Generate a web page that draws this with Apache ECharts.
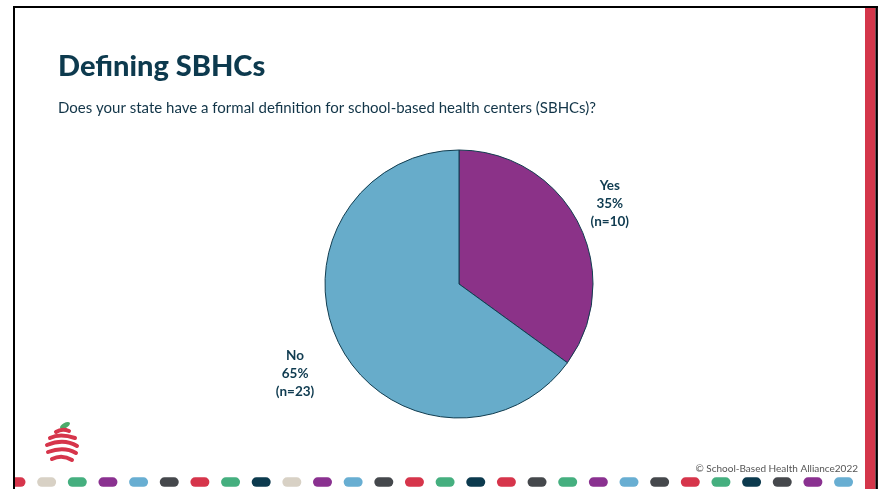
<!DOCTYPE html>
<html>
<head>
<meta charset="utf-8">
<script src="https://cdn.jsdelivr.net/npm/echarts@6/dist/echarts.min.js"></script>
<style>
  html, body { margin: 0; padding: 0; background: #ffffff; }
  #chart { width: 880px; height: 489px; }
</style>
</head>
<body>
<div id="chart"></div>
<script>
// ---- data ----
const titleText = 'Defining SBHCs';
const subtitleText = 'Does your state have a formal definition for school-based health centers (SBHCs)?';
const categories = ['Yes', 'No'];
const percents = [35, 65];
const counts = [10, 23];
const copyrightText = '\u00A9 School-Based Health Alliance2022';

// ---- styles ----
const sliceColors = ['#8B3288', '#67ACCA'];
const labelLayoutCfg = [
  { length: 42, length2: -41 },
  { length: 64, length2: -47.5 }
];
const textColor = '#0F3B50';
const pillPalette = {
  red: '#D6354B', beige: '#D8D1C5', green: '#45AF7F', purple: '#8A3190',
  blue: '#68AED2', dark: '#45484C', navy: '#0C3A4E'
};
const pillSeq = ['red','beige','green','purple','blue','dark','red','green','navy','beige',
  'purple','blue','dark','red','green','navy','red','dark','green','purple','blue','dark',
  'red','green','navy','dark','purple','blue'];

const chart = echarts.init(document.getElementById('chart'), null, { renderer: 'canvas' });

const graphics = [];
// decorative pills
pillSeq.forEach(function (c, i) {
  const cx = 16 + 30.65 * i;
  graphics.push({
    type: 'rect', z: 1, silent: true,
    shape: { x: cx - 9.5, y: 477.3, width: 19, height: 9.5, r: 4.75 },
    style: { fill: pillPalette[c] }
  });
});
// white mask left of border
graphics.push({ type: 'rect', z: 2, silent: true, shape: { x: 0, y: 0, width: 13, height: 489 }, style: { fill: '#ffffff' } });
// frame
graphics.push({ type: 'rect', z: 3, silent: true, shape: { x: 865, y: 7, width: 10.5, height: 482 }, style: { fill: '#D4364A' } });
graphics.push({ type: 'line', z: 4, silent: true, shape: { x1: 13, y1: 7, x2: 878, y2: 7 }, style: { stroke: '#000', lineWidth: 2 } });
graphics.push({ type: 'line', z: 4, silent: true, shape: { x1: 14, y1: 6, x2: 14, y2: 489 }, style: { stroke: '#000', lineWidth: 2 } });
graphics.push({ type: 'line', z: 4, silent: true, shape: { x1: 876.7, y1: 6, x2: 876.7, y2: 489 }, style: { stroke: '#000', lineWidth: 2.4 } });
// title & subtitle
graphics.push({
  type: 'text', z: 5, silent: true, x: 58, y: 67,
  style: { text: titleText, fill: '#0D3A4E', font: '900 29px Lato', verticalAlign: 'middle' }
});
graphics.push({
  type: 'text', z: 5, silent: true, x: 58, y: 108,
  style: { text: subtitleText, fill: '#123548', font: '15px Lato', verticalAlign: 'middle' }
});
// copyright
graphics.push({
  type: 'text', z: 5, silent: true, x: 858, y: 469,
  style: { text: copyrightText, fill: '#555555', font: '10px Lato', align: 'right', verticalAlign: 'middle' }
});
// logo: leaf + stripes
graphics.push({
  type: 'ellipse', z: 5, silent: true, x: 65, y: 425.5, rotation: 0.5,
  shape: { cx: 0, cy: 0, rx: 5.5, ry: 2.6 }, style: { fill: '#4BAA6A' }
});
const stripes = [
  [56, 432, 62, 428, 69, 431],
  [50, 438, 60, 433, 75, 438],
  [47, 445, 64, 438, 77, 446],
  [48, 452, 64, 446, 76, 453],
  [52, 459, 62, 454, 72, 460]
];
stripes.forEach(function (s) {
  graphics.push({
    type: 'bezierCurve', z: 5, silent: true,
    shape: { x1: s[0], y1: s[1], cpx1: s[2], cpy1: s[3], x2: s[4], y2: s[5] },
    style: { stroke: '#D6354B', lineWidth: 4, lineCap: 'round', fill: null }
  });
});

const pieData = categories.map(function (name, i) {
  return {
    name: name,
    value: percents[i],
    itemStyle: { color: sliceColors[i] },
    labelLine: { show: false, length: labelLayoutCfg[i].length, length2: labelLayoutCfg[i].length2 }
  };
});

chart.setOption({
  backgroundColor: '#ffffff',
  animation: false,
  graphic: graphics,
  series: [{
    type: 'pie',
    center: [459, 284],
    radius: 134,
    startAngle: 90,
    clockwise: true,
    avoidLabelOverlap: false,
    silent: true,
    emphasis: { disabled: true },
    itemStyle: { borderColor: '#123D50', borderWidth: 1 },
    label: {
      show: true,
      position: 'outside',
      distanceToLabelLine: 5,
      formatter: function (p) {
        return '{c|' + p.name + '}\n{c|' + p.value + '%}\n{c|(n=' + counts[p.dataIndex] + ')}';
      },
      rich: {
        c: { width: 60, align: 'center', fontFamily: 'Lato', fontWeight: 'bold', fontSize: 13.5, lineHeight: 18, color: textColor }
      }
    },
    labelLine: { show: false },
    data: pieData
  }]
});
</script>
</body>
</html>
